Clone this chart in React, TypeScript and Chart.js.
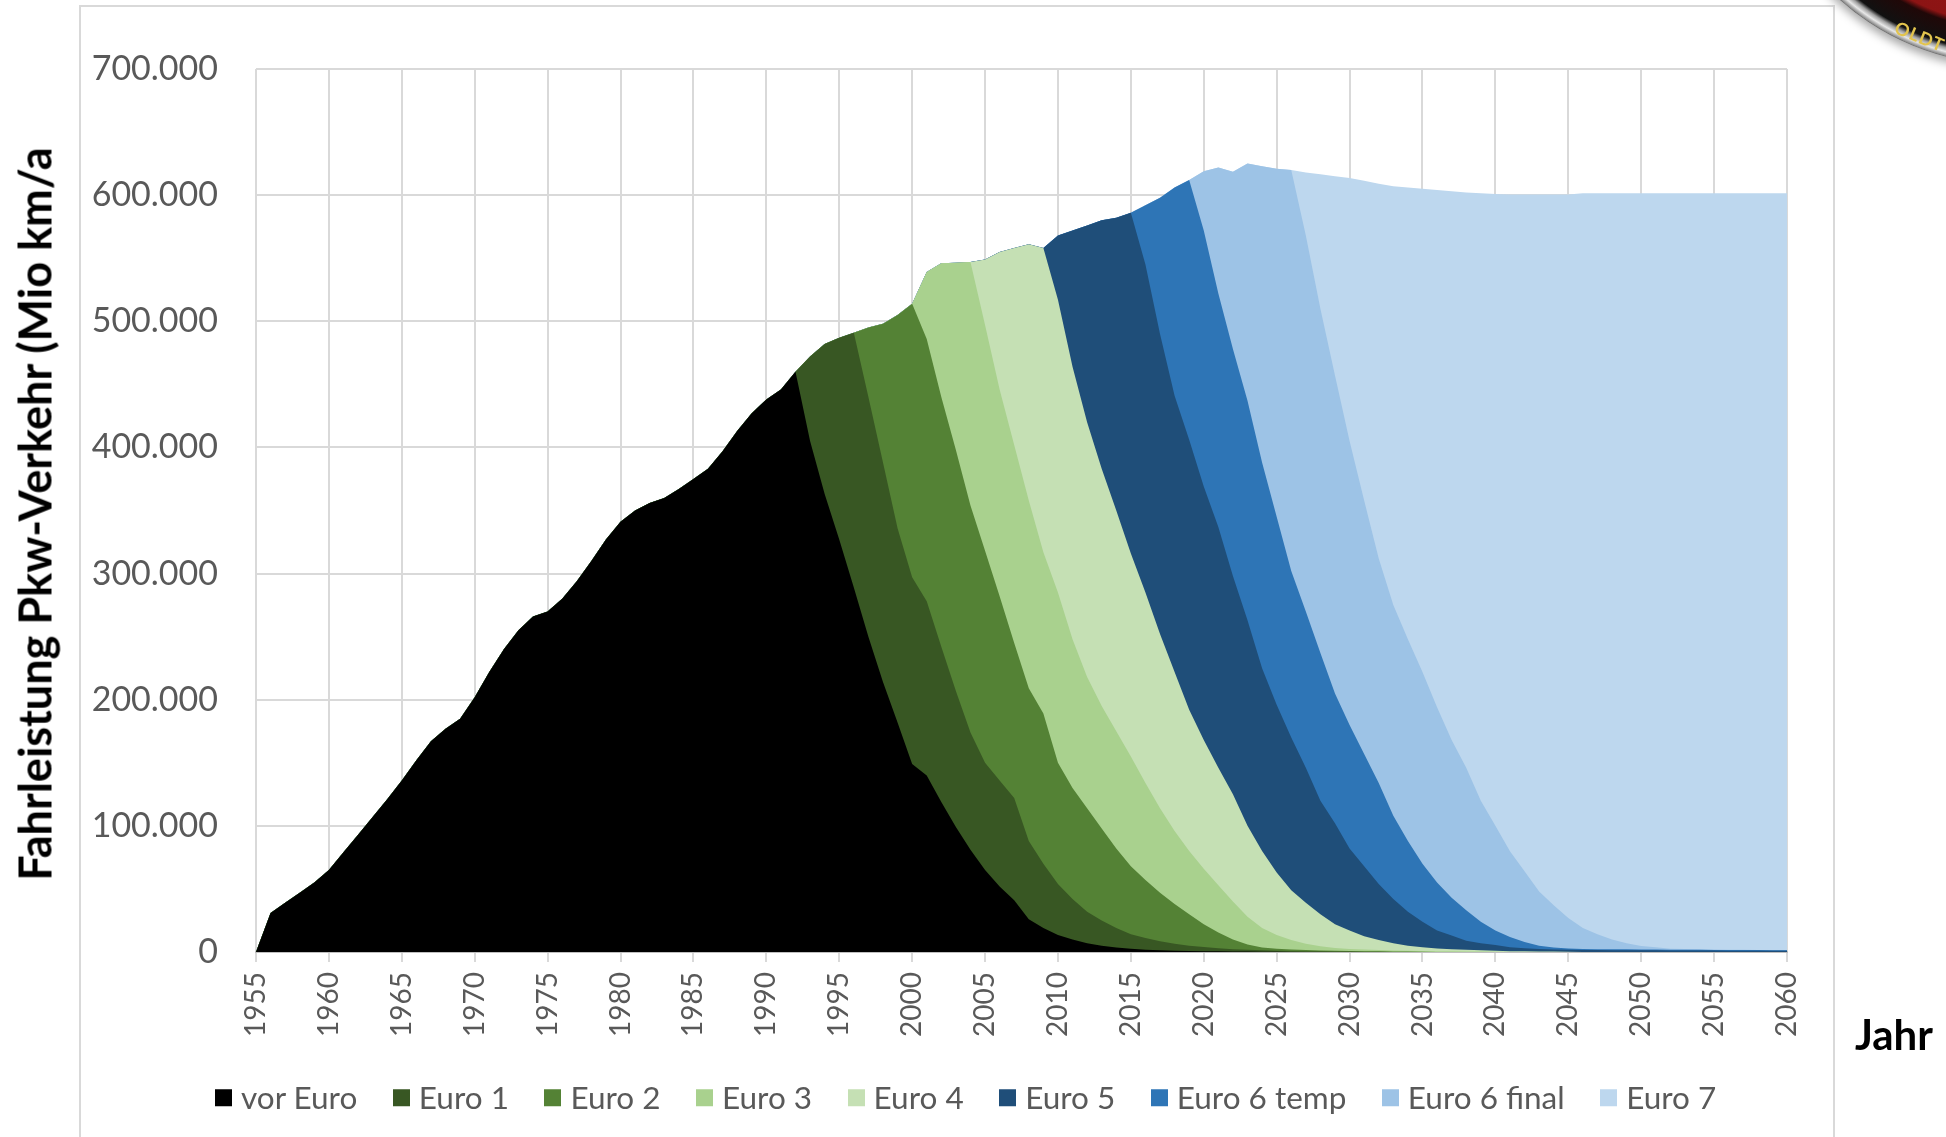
import React, { useEffect, useRef } from "react";
import { Chart, registerables } from "chart.js";

Chart.register(...registerables);

// ---------- categories ----------
const YEARS = [
  1955, 1956, 1957, 1958, 1959, 1960, 1961, 1962, 1963, 1964,
  1965, 1966, 1967, 1968, 1969, 1970, 1971, 1972, 1973, 1974,
  1975, 1976, 1977, 1978, 1979, 1980, 1981, 1982, 1983, 1984,
  1985, 1986, 1987, 1988, 1989, 1990, 1991, 1992, 1993, 1994,
  1995, 1996, 1997, 1998, 1999, 2000, 2001, 2002, 2003, 2004,
  2005, 2006, 2007, 2008, 2009, 2010, 2011, 2012, 2013, 2014,
  2015, 2016, 2017, 2018, 2019, 2020, 2021, 2022, 2023, 2024,
  2025, 2026, 2027, 2028, 2029, 2030, 2031, 2032, 2033, 2034,
  2035, 2036, 2037, 2038, 2039, 2040, 2041, 2042, 2043, 2044,
  2045, 2046, 2047, 2048, 2049, 2050, 2051, 2052, 2053, 2054,
  2055, 2056, 2057, 2058, 2059, 2060,
];

// ---------- series values (in thousand Mio km/a) ----------
const VOR_EURO = [
  0, 31, 39, 47, 55, 65, 79, 93, 107, 121,
  136, 152, 167, 177, 185, 202, 222, 240, 255, 266,
  270, 280, 294, 310, 327, 341, 350, 356, 360, 367,
  375, 383, 397, 413, 427, 438, 446, 460, 405, 363,
  327, 289, 250, 214, 182, 149, 140, 119, 99, 81,
  65, 52, 41, 26, 19, 13.5, 10, 7, 5, 3.5,
  2.5, 1.8, 1.3, 1, 0.8, 0.6, 0.5, 0.4, 0.3, 0.2,
  0.1, 0, 0, 0, 0, 0, 0, 0, 0, 0,
  0, 0, 0, 0, 0, 0, 0, 0, 0, 0,
  0, 0, 0, 0, 0, 0, 0, 0, 0, 0,
  0, 0, 0, 0, 0, 0,
];

const EURO_1 = [
  0, 0, 0, 0, 0, 0, 0, 0, 0, 0,
  0, 0, 0, 0, 0, 0, 0, 0, 0, 0,
  0, 0, 0, 0, 0, 0, 0, 0, 0, 0,
  0, 0, 0, 0, 0, 0, 0, 0, 67, 119,
  160, 202, 190, 174, 154, 148, 138, 123, 108, 93,
  85, 84, 81, 62, 51, 40.5, 32, 25, 20, 15.5,
  11.5, 9.2, 7.2, 5.5, 4.2, 3.4, 2.5, 1.8, 1.4, 1.1,
  0.9, 0.8, 0.6, 0.5, 0.4, 0.3, 0.2, 0.1, 0, 0,
  0, 0, 0, 0, 0, 0, 0, 0, 0, 0,
  0, 0, 0, 0, 0, 0, 0, 0, 0, 0,
  0, 0, 0, 0, 0, 0,
];

const EURO_2 = [
  0, 0, 0, 0, 0, 0, 0, 0, 0, 0,
  0, 0, 0, 0, 0, 0, 0, 0, 0, 0,
  0, 0, 0, 0, 0, 0, 0, 0, 0, 0,
  0, 0, 0, 0, 0, 0, 0, 0, 0, 0,
  0, 0, 55, 110, 169, 217, 208, 198, 191, 180,
  168, 146, 123, 121, 119, 96, 88, 82, 73, 63,
  54, 46, 38.5, 31.5, 25, 18, 12.5, 7.8, 4.3, 2.2,
  1.5, 1.2, 0.9, 0.7, 0.6, 0.5, 0.4, 0.4, 0.4, 0.3,
  0.2, 0, 0, 0, 0, 0, 0, 0, 0, 0,
  0, 0, 0, 0, 0, 0, 0, 0, 0, 0,
  0, 0, 0, 0, 0, 0,
];

const EURO_3 = [
  0, 0, 0, 0, 0, 0, 0, 0, 0, 0,
  0, 0, 0, 0, 0, 0, 0, 0, 0, 0,
  0, 0, 0, 0, 0, 0, 0, 0, 0, 0,
  0, 0, 0, 0, 0, 0, 0, 0, 0, 0,
  0, 0, 0, 0, 0, 0, 53, 106, 148.5, 193,
  179, 164, 157, 149, 128, 135, 118, 104, 97, 93,
  87, 77, 67, 58, 50, 44, 37.5, 30, 22, 15.5,
  11, 7.5, 5, 3.3, 2.2, 1.6, 1.3, 1, 0.8, 0.7,
  0.6, 0.6, 0.5, 0.4, 0.3, 0.2, 0, 0, 0, 0,
  0, 0, 0, 0, 0, 0, 0, 0, 0, 0,
  0, 0, 0, 0, 0, 0,
];

const EURO_4 = [
  0, 0, 0, 0, 0, 0, 0, 0, 0, 0,
  0, 0, 0, 0, 0, 0, 0, 0, 0, 0,
  0, 0, 0, 0, 0, 0, 0, 0, 0, 0,
  0, 0, 0, 0, 0, 0, 0, 0, 0, 0,
  0, 0, 0, 0, 0, 0, 0, 0, 0, 0,
  52, 109, 156, 203, 241, 232, 216, 202, 188, 175,
  161, 151, 138, 126, 112, 102, 93, 85, 72, 61,
  49.5, 39.5, 32.5, 25.5, 18.8, 14.6, 10.6, 8, 5.8, 4,
  3, 2.2, 1.7, 1.3, 1, 0.8, 0.6, 0.5, 0.4, 0.3,
  0.2, 0, 0, 0, 0, 0, 0, 0, 0, 0,
  0, 0, 0, 0, 0, 0,
];

const EURO_5 = [
  0, 0, 0, 0, 0, 0, 0, 0, 0, 0,
  0, 0, 0, 0, 0, 0, 0, 0, 0, 0,
  0, 0, 0, 0, 0, 0, 0, 0, 0, 0,
  0, 0, 0, 0, 0, 0, 0, 0, 0, 0,
  0, 0, 0, 0, 0, 0, 0, 0, 0, 0,
  0, 0, 0, 0, 0, 51, 108, 156, 197, 232,
  270, 260, 238, 219, 214, 201, 191, 173, 163, 145,
  133, 121, 107, 90, 80, 65, 55.5, 44.5, 35, 27,
  20.2, 14.2, 10.8, 7.3, 5.7, 4.5, 3.2, 2.5, 2, 1.7,
  1.6, 1.6, 1.5, 1.4, 1.4, 1.3, 1.3, 1.2, 1.2, 1.1,
  1.1, 1.0, 1.0, 1.0, 0.9, 0.9,
];

const EURO_6_TEMP = [
  0, 0, 0, 0, 0, 0, 0, 0, 0, 0,
  0, 0, 0, 0, 0, 0, 0, 0, 0, 0,
  0, 0, 0, 0, 0, 0, 0, 0, 0, 0,
  0, 0, 0, 0, 0, 0, 0, 0, 0, 0,
  0, 0, 0, 0, 0, 0, 0, 0, 0, 0,
  0, 0, 0, 0, 0, 0, 0, 0, 0, 0,
  0, 47, 108, 165, 206, 203, 185, 180, 174, 163,
  149, 132, 124, 117, 103, 98, 89, 80, 66, 56,
  46, 38, 30, 24, 17, 11.5, 8, 5, 2.5, 1.5,
  1, 0.8, 0.7, 0.7, 0.7, 0.6, 0.6, 0.6, 0.6, 0.6,
  0.5, 0.5, 0.5, 0.5, 0.5, 0.5,
];

const EURO_6_FINAL = [
  0, 0, 0, 0, 0, 0, 0, 0, 0, 0,
  0, 0, 0, 0, 0, 0, 0, 0, 0, 0,
  0, 0, 0, 0, 0, 0, 0, 0, 0, 0,
  0, 0, 0, 0, 0, 0, 0, 0, 0, 0,
  0, 0, 0, 0, 0, 0, 0, 0, 0, 0,
  0, 0, 0, 0, 0, 0, 0, 0, 0, 0,
  0, 0, 0, 0, 0, 47, 100, 140.5, 188, 235,
  276, 318, 298, 273, 252, 225, 201, 178, 167, 160,
  152, 139, 125, 113, 96, 83, 68, 56, 43, 33.5,
  24.2, 16.6, 11.8, 7.8, 4.8, 2.8, 1.8, 0.8, 0.5, 0.4,
  0.3, 0.2, 0.2, 0.1, 0.1, 0.1,
];

const EURO_7 = [
  0, 0, 0, 0, 0, 0, 0, 0, 0, 0,
  0, 0, 0, 0, 0, 0, 0, 0, 0, 0,
  0, 0, 0, 0, 0, 0, 0, 0, 0, 0,
  0, 0, 0, 0, 0, 0, 0, 0, 0, 0,
  0, 0, 0, 0, 0, 0, 0, 0, 0, 0,
  0, 0, 0, 0, 0, 0, 0, 0, 0, 0,
  0, 0, 0, 0, 0, 0, 0, 0, 0, 0,
  0, 0, 50, 106.5, 158, 208.5, 253.5, 297, 332, 358,
  383, 410, 435, 456, 481.5, 501, 520.7, 536.5, 552.6, 563.5,
  573.5, 582.5, 587.5, 591.6, 594.6, 596.8, 597.8, 598.9, 599.2, 599.4,
  599.6, 599.8, 599.8, 599.9, 600, 600,
];

const SERIES_NAMES = [
  "vor Euro", "Euro 1", "Euro 2", "Euro 3", "Euro 4",
  "Euro 5", "Euro 6 temp", "Euro 6 final", "Euro 7",
];
const SERIES_VALUES = [
  VOR_EURO, EURO_1, EURO_2, EURO_3, EURO_4,
  EURO_5, EURO_6_TEMP, EURO_6_FINAL, EURO_7,
];
const SERIES_COLORS = [
  "#000000", "#385723", "#548235", "#A9D18E", "#C5E0B4",
  "#1F4E79", "#2E75B6", "#9DC3E6", "#BDD7EE",
];

const Y_TICKS = [0, 100000, 200000, 300000, 400000, 500000, 600000, 700000];

const Y_TITLE = "Fahrleistung Pkw-Verkehr (Mio km/a";
const X_TITLE = "Jahr";

// ---------- layout ----------
const W = 1946;
const H = 1137;
const PLOT_LEFT = 256;
const PLOT_TOP = 69;
const PLOT_RIGHT = 1787;
const PLOT_BOTTOM = 952;
const FONT = "Lato, 'Open Sans', sans-serif";
const GRID = "#D9D9D9";
const TEXT_GRAY = "#595959";

function formatThousands(v: number): string {
  const s = String(Math.round(v));
  return s.replace(/\B(?=(\d{3})+(?!\d))/g, ".");
}

export default function App() {
  const canvasRef = useRef<HTMLCanvasElement | null>(null);

  useEffect(() => {
    const canvas = canvasRef.current;
    if (!canvas) return;
    const chart = new Chart(canvas, {
      type: "line",
      data: {
        labels: YEARS.map(String),
        datasets: SERIES_VALUES.map((vals, i) => ({
          label: SERIES_NAMES[i],
          data: vals.map((v) => v * 1000),
          backgroundColor: SERIES_COLORS[i],
          borderColor: "transparent",
          borderWidth: 0,
          pointRadius: 0,
          pointHoverRadius: 0,
          fill: "origin",
          tension: 0,
        })),
      },
      options: {
        responsive: false,
        animation: false,
        devicePixelRatio: 1,
        events: [],
        layout: {
          padding: { left: 0, top: PLOT_TOP, right: W - PLOT_RIGHT, bottom: 0 },
        },
        plugins: {
          legend: { display: false },
          tooltip: { enabled: false },
          title: { display: false },
        },
        scales: {
          x: {
            type: "category",
            offset: false,
            afterFit: (s: any) => {
              s.height = H - PLOT_BOTTOM;
            },
            ticks: {
              autoSkip: false,
              minRotation: 90,
              maxRotation: 90,
              padding: 10,
              color: TEXT_GRAY,
              font: { family: FONT, size: 28 },
              callback: (_v: any, idx: number) =>
                YEARS[idx] % 5 === 0 ? String(YEARS[idx]) : null,
            },
            grid: {
              color: GRID,
              lineWidth: 2,
              tickLength: 10,
              tickColor: GRID,
              drawTicks: true,
            },
            border: { display: true, color: "#BFBFBF", width: 2 },
          },
          y: {
            stacked: true,
            min: 0,
            max: 700000,
            afterFit: (s: any) => {
              s.width = PLOT_LEFT;
            },
            afterBuildTicks: (s: any) => {
              s.ticks = Y_TICKS.map((v) => ({ value: v }));
            },
            ticks: {
              padding: 38,
              color: TEXT_GRAY,
              font: { family: FONT, size: 34 },
              callback: (v: any) => formatThousands(Number(v)),
            },
            grid: { color: GRID, lineWidth: 2, drawTicks: false },
            border: { display: false },
          },
        },
      },
    });
    let alive = true;
    if ((document as any).fonts && (document as any).fonts.load) {
      Promise.all([
        (document as any).fonts.load(`34px Lato`),
        (document as any).fonts.load(`28px Lato`),
      ]).then(() => {
        if (alive) chart.update();
      });
    }
    return () => {
      alive = false;
      chart.destroy();
    };
  }, []);

  return (
    <div
      style={{
        position: "fixed",
        left: 0,
        top: 0,
        width: W,
        height: H,
        overflow: "hidden",
        background: "#ffffff",
        fontFamily: FONT,
      }}
    >
      {/* chart frame */}
      <div
        style={{
          position: "absolute",
          left: 79,
          top: 5,
          width: 1756,
          height: H + 20,
          border: `2px solid ${GRID}`,
          boxSizing: "border-box",
        }}
      />
      <canvas
        ref={canvasRef}
        width={W}
        height={H}
        style={{ position: "absolute", left: 0, top: 0, width: W, height: H }}
      />
      {/* logo fragment */}
      <div
        style={{
          position: "absolute",
          left: 2010 - 255,
          top: -190 - 255,
          width: 510,
          height: 510,
          borderRadius: "50%",
          background:
            "radial-gradient(circle at center, #a81e1e 0px, #8c1414 214px, #200808 220px, #111111 242px, #a0a0a0 246px, #e8e8e8 250px, #8a8a8a 254px, #555 255px)",
          boxShadow: "0 5px 10px rgba(0,0,0,0.35)",
        }}
      />
      <div
        style={{
          position: "absolute",
          left: 1900,
          top: 16,
          transform: "rotate(22deg)",
          transformOrigin: "left top",
          color: "#E2C44E",
          fontWeight: 700,
          fontSize: 18,
          letterSpacing: 1,
          fontFamily: FONT,
        }}
      >
        OLDT
      </div>
      {/* y axis title */}
      <div
        style={{
          position: "absolute",
          left: 35,
          top: 514,
          transform: "translate(-50%, -50%) rotate(-90deg)",
          whiteSpace: "nowrap",
          fontWeight: 700,
          fontSize: 45,
          color: "#000000",
          lineHeight: 1,
        }}
      >
        {Y_TITLE}
      </div>
      {/* x axis title */}
      <div
        style={{
          position: "absolute",
          left: 1855,
          top: 1034,
          transform: "translateY(-50%)",
          whiteSpace: "nowrap",
          fontWeight: 700,
          fontSize: 42,
          color: "#000000",
          lineHeight: 1,
        }}
      >
        {X_TITLE}
      </div>
      {/* legend */}
      <div
        style={{
          position: "absolute",
          left: 215,
          top: 1098,
          transform: "translateY(-50%)",
          display: "flex",
          alignItems: "center",
          whiteSpace: "nowrap",
        }}
      >
        {SERIES_NAMES.map((name, i) => (
          <div
            key={name}
            style={{ display: "flex", alignItems: "center", marginRight: 35.5 }}
          >
            <span
              style={{
                display: "inline-block",
                width: 17,
                height: 17,
                background: SERIES_COLORS[i],
                marginRight: 9,
              }}
            />
            <span style={{ fontSize: 31.5, color: TEXT_GRAY, lineHeight: 1 }}>
              {name}
            </span>
          </div>
        ))}
      </div>
    </div>
  );
}
